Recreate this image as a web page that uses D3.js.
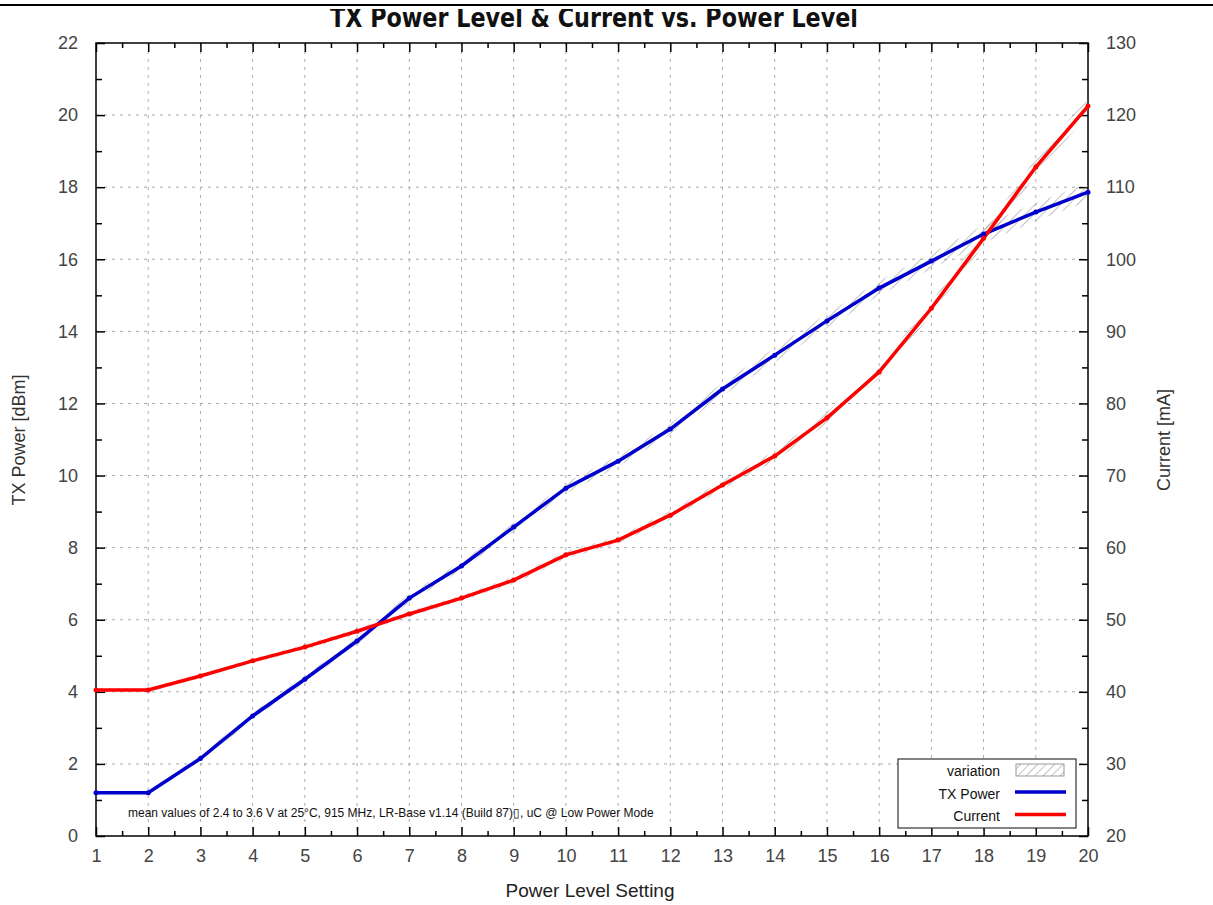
<!DOCTYPE html>
<html>
<head>
<meta charset="utf-8">
<script src="https://cdn.jsdelivr.net/npm/d3@7"></script>
<style>
  body { margin: 0; background: #fff; }
  svg { display: block; font-family: "Liberation Sans", Arial, sans-serif; }
  .tick text { fill: #444; font-size: 18px; }
  .grid line { stroke: #aaa; stroke-dasharray: 3,5; }
</style>
</head>
<body>
<svg id="chart" width="1213" height="905"></svg>
<script>
// power level settings
var levels = [1,2,3,4,5,6,7,8,9,10,11,12,13,14,15,16,17,18,19,20];

// TX power in dBm (left axis)
var txPower = [1.2,1.2,2.15,3.33,4.35,5.41,6.6,7.49,8.57,9.65,10.4,11.29,12.4,13.34,14.29,15.2,15.95,16.7,17.31,17.86];
// current in mA (right axis)
var current = [40.25,40.25,42.2,44.3,46.2,48.4,50.8,53.0,55.5,59.0,61.05,64.5,68.7,72.7,78.0,84.35,93.2,102.9,112.8,121.25];

// variation (spread) around the mean values
var txVar = [0.05,0.05,0.08,0.1,0.1,0.1,0.12,0.12,0.12,0.15,0.15,0.15,0.18,0.2,0.2,0.2,0.22,0.25,0.25,0.25];
var curVar = [0.3,0.3,0.3,0.3,0.4,0.4,0.4,0.4,0.5,0.5,0.5,0.6,0.6,0.7,0.8,0.8,0.9,1.0,1.2,1.2];

var leftTicks = [0,2,4,6,8,10,12,14,16,18,20,22];
var rightTicks = [20,30,40,50,60,70,80,90,100,110,120,130];

var titleText = "TX Power Level & Current vs. Power Level";
var noteText = "mean values of 2.4 to 3.6 V at 25\u00B0C, 915 MHz, LR-Base v1.14 (Build 87)\u25AF, uC @ Low Power Mode";

var svg = d3.select("#chart");
var plotL = 96, plotR = 1088, plotT = 43, plotB = 836;

var xScale = d3.scaleLinear().domain([1, 20]).range([plotL, plotR]);
var yLeft = d3.scaleLinear().domain([0, 22]).range([plotB, plotT]);
var yRight = d3.scaleLinear().domain([20, 130]).range([plotB, plotT]);

// hatch pattern for the variation band
var defs = svg.append("defs");
var pat = defs.append("pattern")
    .attr("id", "hatch")
    .attr("patternUnits", "userSpaceOnUse")
    .attr("width", 6).attr("height", 6)
    .attr("patternTransform", "rotate(45)");
pat.append("line")
    .attr("x1", 0).attr("y1", 0).attr("x2", 0).attr("y2", 6)
    .attr("stroke", "#999").attr("stroke-width", 1.2);

// title (its top is cut off in the source image)
svg.append("text")
    .attr("x", 330).attr("y", 27)
    .attr("textLength", 528)
    .attr("lengthAdjust", "spacingAndGlyphs")
    .style("font-size", "27px")
    .style("font-weight", "bold")
    .style("font-family", "'DejaVu Sans Condensed', 'DejaVu Sans', sans-serif")
    .attr("fill", "#111")
    .text(titleText);
svg.append("rect")
    .attr("x", 0).attr("y", 0).attr("width", 1213).attr("height", 9)
    .attr("fill", "#fff");

// top rule across the page
svg.append("line")
    .attr("x1", 0).attr("x2", 1213).attr("y1", 5).attr("y2", 5)
    .attr("stroke", "#000").attr("stroke-width", 2);

// grid
var grid = svg.append("g").attr("class", "grid");
grid.selectAll("line.v")
    .data(levels.slice(1, -1))
    .enter().append("line")
    .attr("x1", d => xScale(d)).attr("x2", d => xScale(d))
    .attr("y1", plotT).attr("y2", plotB);
grid.selectAll("line.h")
    .data(leftTicks.slice(1, -1))
    .enter().append("line")
    .attr("x1", plotL).attr("x2", plotR)
    .attr("y1", d => yLeft(d)).attr("y2", d => yLeft(d));

// axes with inward ticks
var minorX = d3.range(1.5, 20, 1);
function styleAxis(g) {
    g.select(".domain").remove();
    g.selectAll(".tick line").attr("stroke", "#000").attr("stroke-width", 1.5);
}

var xAxis = svg.append("g")
    .attr("transform", "translate(0," + plotB + ")")
    .call(d3.axisBottom(xScale).tickValues(levels).tickFormat(d3.format("d")).tickSizeInner(-9).tickPadding(13));
styleAxis(xAxis);

svg.append("g")
    .attr("transform", "translate(0," + plotB + ")")
    .call(d3.axisBottom(xScale).tickValues(minorX).tickFormat("").tickSizeInner(-5))
    .call(styleAxis);

svg.append("g")
    .attr("transform", "translate(0," + plotT + ")")
    .call(d3.axisTop(xScale).tickValues(levels).tickFormat("").tickSizeInner(-9))
    .call(styleAxis);
svg.append("g")
    .attr("transform", "translate(0," + plotT + ")")
    .call(d3.axisTop(xScale).tickValues(minorX).tickFormat("").tickSizeInner(-5))
    .call(styleAxis);

var yAxisL = svg.append("g")
    .attr("transform", "translate(" + plotL + ",0)")
    .call(d3.axisLeft(yLeft).tickValues(leftTicks).tickFormat(d3.format("d")).tickSizeInner(-9).tickPadding(18));
styleAxis(yAxisL);
svg.append("g")
    .attr("transform", "translate(" + plotL + ",0)")
    .call(d3.axisLeft(yLeft).tickValues(d3.range(1, 22, 2)).tickFormat("").tickSizeInner(-6))
    .call(styleAxis);

var yAxisR = svg.append("g")
    .attr("transform", "translate(" + plotR + ",0)")
    .call(d3.axisRight(yRight).tickValues(rightTicks).tickFormat(d3.format("d")).tickSizeInner(-9).tickPadding(18));
styleAxis(yAxisR);
svg.append("g")
    .attr("transform", "translate(" + plotR + ",0)")
    .call(d3.axisRight(yRight).tickValues(d3.range(25, 130, 10)).tickFormat("").tickSizeInner(-6))
    .call(styleAxis);

// frame
svg.append("rect")
    .attr("x", plotL).attr("y", plotT)
    .attr("width", plotR - plotL).attr("height", plotB - plotT)
    .attr("fill", "none").attr("stroke", "#000").attr("stroke-width", 1.5);

// variation bands
var txArea = d3.area()
    .x((d, i) => xScale(levels[i]))
    .y0((d, i) => yLeft(txPower[i] - txVar[i]))
    .y1((d, i) => yLeft(txPower[i] + txVar[i]));
var curArea = d3.area()
    .x((d, i) => xScale(levels[i]))
    .y0((d, i) => yRight(current[i] - curVar[i]))
    .y1((d, i) => yRight(current[i] + curVar[i]));

svg.append("path").datum(levels).attr("d", txArea).attr("fill", "url(#hatch)");
svg.append("path").datum(levels).attr("d", curArea).attr("fill", "url(#hatch)");

// lines
var txLine = d3.line().x((d, i) => xScale(levels[i])).y(d => yLeft(d));
var curLine = d3.line().x((d, i) => xScale(levels[i])).y(d => yRight(d));

svg.append("path").datum(txPower)
    .attr("d", txLine)
    .attr("fill", "none").attr("stroke", "#0000cc").attr("stroke-width", 3.5);
svg.append("path").datum(current)
    .attr("d", curLine)
    .attr("fill", "none").attr("stroke", "#ff0000").attr("stroke-width", 3.5);

// point markers
svg.selectAll("circle.tx")
    .data(txPower).enter().append("circle")
    .attr("class", "tx")
    .attr("cx", (d, i) => xScale(levels[i])).attr("cy", d => yLeft(d))
    .attr("r", 2.5).attr("fill", "#0000cc");
svg.selectAll("circle.cur")
    .data(current).enter().append("circle")
    .attr("class", "cur")
    .attr("cx", (d, i) => xScale(levels[i])).attr("cy", d => yRight(d))
    .attr("r", 2.5).attr("fill", "#ff0000");

// axis titles
svg.append("text")
    .attr("transform", "translate(25,440) rotate(-90)")
    .attr("text-anchor", "middle")
    .style("font-size", "18px").attr("fill", "#333")
    .text("TX Power [dBm]");
svg.append("text")
    .attr("transform", "translate(1170,440) rotate(-90)")
    .attr("text-anchor", "middle")
    .style("font-size", "18px").attr("fill", "#333")
    .text("Current [mA]");
svg.append("text")
    .attr("x", 590).attr("y", 897)
    .attr("text-anchor", "middle")
    .style("font-size", "19px").attr("fill", "#222")
    .text("Power Level Setting");

// note
svg.append("text")
    .attr("x", 128).attr("y", 817)
    .style("font-size", "12px").attr("fill", "#111")
    .text(noteText);

// legend
var lg = svg.append("g").attr("transform", "translate(898,759)");
lg.append("rect")
    .attr("width", 178).attr("height", 69)
    .attr("fill", "#fff").attr("stroke", "#333").attr("stroke-width", 1.2);
var legendItems = ["variation", "TX Power", "Current"];
var legendColors = ["#0000cc", "#ff0000"];
lg.selectAll("text")
    .data(legendItems).enter().append("text")
    .attr("x", 102).attr("y", (d, i) => 17 + i * 22.5)
    .attr("text-anchor", "end")
    .style("font-size", "14px").attr("fill", "#111")
    .text(d => d);
lg.append("rect")
    .attr("x", 118).attr("y", 5).attr("width", 48).attr("height", 12)
    .attr("fill", "url(#hatch)").attr("stroke", "#999");
lg.selectAll("line")
    .data(legendColors).enter().append("line")
    .attr("x1", 117).attr("x2", 168)
    .attr("y1", (d, i) => 33 + i * 22.5).attr("y2", (d, i) => 33 + i * 22.5)
    .attr("stroke", d => d).attr("stroke-width", 3.5);
</script>
</body>
</html>
